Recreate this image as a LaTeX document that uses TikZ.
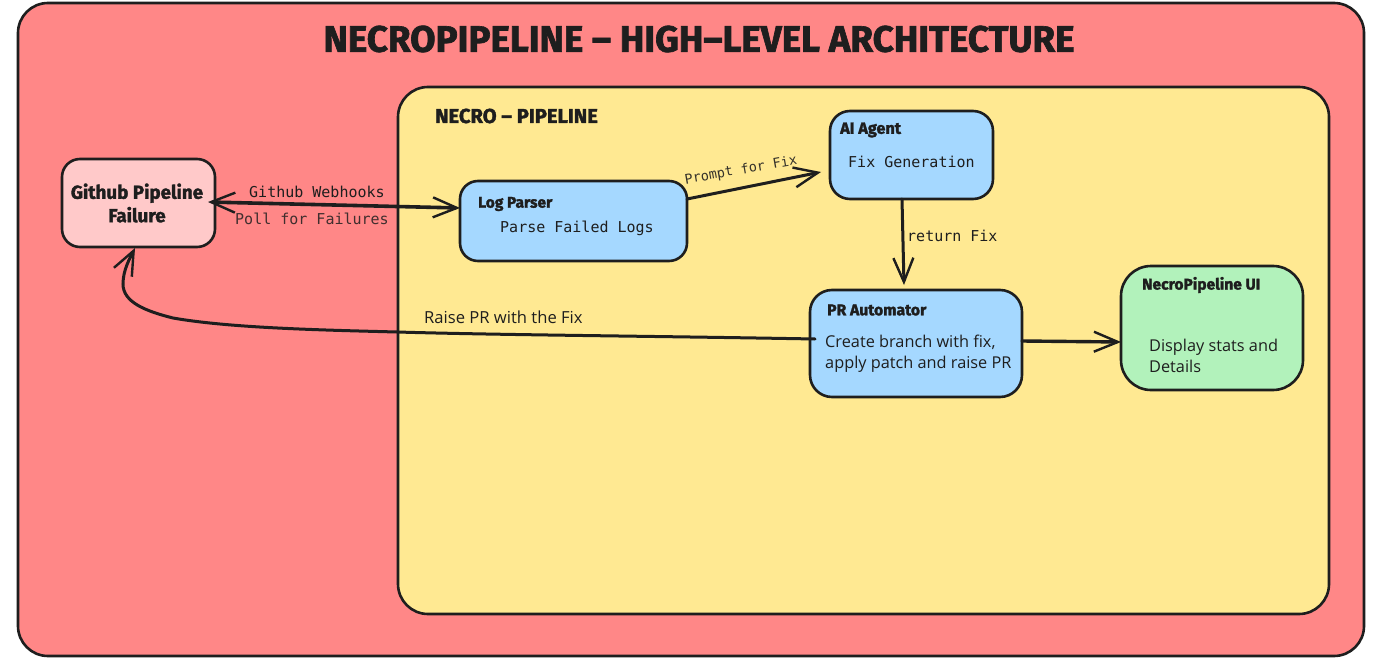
\documentclass[tikz,border=0pt]{standalone}
\usepackage{fontspec}
\setmainfont{Fira Sans}
\newfontfamily\headfont{Fira Sans}[BoldFeatures={FakeBold=1.8}]
\newfontfamily\codefont{DejaVu Sans Mono}
\newfontfamily\bodyfont{Open Sans}
\usetikzlibrary{arrows.meta,calc}
\definecolor{ink}{HTML}{1E1E1E}
\definecolor{redbg}{HTML}{FF8787}
\definecolor{yellowbg}{HTML}{FFE992}
\definecolor{bluebox}{HTML}{A5D8FF}
\definecolor{greenbox}{HTML}{B2F2BB}
\definecolor{pinkbox}{HTML}{FFC9C9}
\tikzset{
  x=1pt,y=-1pt,
  panel/.style={draw=ink,line width=2.6pt,rounded corners=#1,inner sep=0pt,outer sep=0pt,anchor=north west},
  panel/.default=20pt,
  conn/.style={draw=ink,line width=3pt,line cap=round},
  barb/.style={Straight Barb[length=24pt,width=20pt,line width=2.4pt]},
  head/.style={-{Straight Barb[length=24pt,width=20pt,line width=2.4pt]}},
  title/.style={font=\headfont\bfseries\fontsize{#1}{#1}\selectfont,text=ink,inner sep=0pt,align=center},
  code/.style={font=\codefont\fontsize{15}{15}\selectfont,text=ink,inner sep=0pt,anchor=west},
  body/.style={font=\bodyfont\fontsize{16.3}{21}\selectfont,text=ink,inner sep=0pt,anchor=west,align=left},
}
\begin{document}
\begin{tikzpicture}
\useasboundingbox (0,0) rectangle (1384,666);
\fill[white] (0,0) rectangle (1384,666);
\node[panel=30pt,fill=redbg,minimum width=1346pt,minimum height=653pt] (outer) at (18,3) {};
\node[panel=30pt,fill=yellowbg,minimum width=931pt,minimum height=527pt] (inner) at (398,87) {};
\node[panel=18pt,fill=pinkbox,minimum width=153pt,minimum height=88pt] (gh) at (62,159) {};
\node[panel=18pt,fill=bluebox,minimum width=227pt,minimum height=80pt] (lp) at (460,181) {};
\node[panel=20pt,fill=bluebox,minimum width=163pt,minimum height=88pt] (ai) at (830,111) {};
\node[panel=22pt,fill=bluebox,minimum width=212pt,minimum height=107pt] (pr) at (810,290) {};
\node[panel=30pt,fill=greenbox,minimum width=182pt,minimum height=124pt] (ui) at (1121,266) {};

\node[title=36.8] (maintitle) at (699,39) {NECROPIPELINE – HIGH–LEVEL ARCHITECTURE};
\node[title=20.2] (innertitle) at (516.5,116) {NECRO – PIPELINE};
\node[title=18.8] (ghlabel) at (137,203) {Github Pipeline\\[3pt]Failure};
\node[title=15.5,anchor=west] (lptitle) at (478,204) {Log Parser};
\node[title=16.2,anchor=west] (aititle) at (840,130) {AI Agent};
\node[title=15.7,anchor=west] (prtitle) at (827,310) {PR Automator};
\node[title=15.6,anchor=west] (uititle) at (1142,285) {NecroPipeline UI};

\node[code] (lpbody) at (500,228.5) {Parse Failed Logs};
\node[code] (aibody) at (848,162) {Fix Generation};
\node[body] (prbody) at (825,353.5) {Create branch with fix,\\apply patch and raise PR};
\node[body] (uibody) at (1149,356) {Display stats and\\Details};

\node[code] (webhooks) at (249,191.5) {Github Webhooks};
\node[code,text=ink!85!redbg] (poll) at (235,218.5) {Poll for Failures};
\node[code,font=\codefont\fontsize{13.5}{13.5}\selectfont,text=ink!90!yellowbg,rotate=10,anchor=center] (prompt) at (741,170.5) {Prompt for Fix};
\node[code] (ret) at (907,236) {return Fix};
\node[body,anchor=west,font=\bodyfont\fontsize{16.6}{21}\selectfont] (raise) at (424,317.5) {Raise PR with the Fix};

\coordinate (ghE) at ([xshift=-7pt,yshift=1pt]gh.east);
\coordinate (lpW) at ([yshift=13pt]lp.west);
\coordinate (lpE) at ([yshift=22pt]lp.east);
\coordinate (aiW) at ([xshift=-9pt,yshift=-17pt]ai.west);
\coordinate (aiS) at ([xshift=-9.5pt]ai.south);
\coordinate (prN) at ([xshift=-12pt,yshift=5pt]pr.north);
\coordinate (prW) at ([xshift=5pt,yshift=4.5pt]pr.west);
\coordinate (prE) at ([yshift=2.5pt]pr.east);
\coordinate (uiW) at ([yshift=-14pt]ui.west);
\coordinate (ghS) at ([xshift=-3.5pt,yshift=-1pt]gh.south);

\draw[conn,line width=3.6pt,{Straight Barb[length=24pt,width=20pt,line width=2.4pt]}-{Straight Barb[length=24pt,width=20pt,line width=2.4pt]}] (ghE) -- (lpW);
\draw[conn,head] (lpE) -- (aiW);
\draw[conn,head] (aiS) -- (prN);
\draw[conn,line width=3.4pt,head] (prE) -- (uiW);
\draw[conn,head] (prW) .. controls (650,336) and (500,335) .. (397,332)
  .. controls (320,330) and (230,328) .. (173,318)
  .. controls (145,311) and (123,302) .. (123,284)
  .. controls (123,270) and (130,258) .. (ghS);
\end{tikzpicture}
\end{document}
